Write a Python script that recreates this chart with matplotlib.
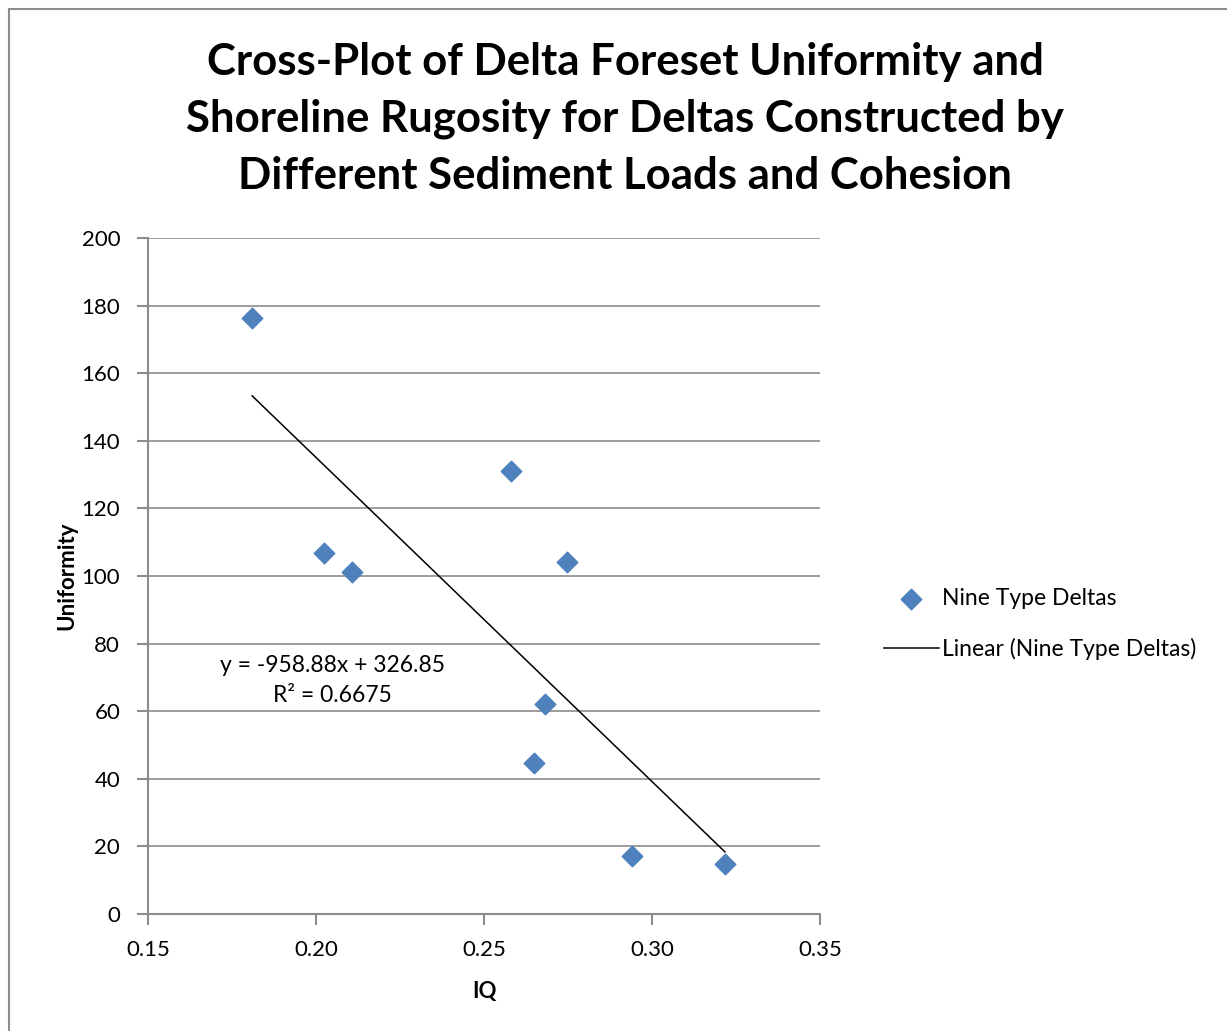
import matplotlib.pyplot as plt
from matplotlib.patches import Rectangle

plt.rcParams['font.family'] = ['Lato', 'DejaVu Sans']

# IQ vs uniformity for the nine deltas
iq = [0.181, 0.2024, 0.2107, 0.2580, 0.2747, 0.2682, 0.2649, 0.2940, 0.3217]
uniformity = [176.3, 106.8, 101.2, 131.1, 104.1, 62.1, 44.7, 17.2, 14.8]
slope = -958.88
intercept = 326.85
r2 = 0.6675
xticks = [0.15, 0.20, 0.25, 0.30, 0.35]
yticks = [0, 20, 40, 60, 80, 100, 120, 140, 160, 180, 200]

W, H = 1227, 1031
fig = plt.figure(figsize=(W / 100, H / 100), dpi=100)
fig.patches.append(Rectangle((9 / W, -0.01), 1.02, 1 - 9 / H + 0.01,
                             transform=fig.transFigure, fill=False,
                             edgecolor='#8c8c8c', linewidth=1.5))

ax = fig.add_axes([148 / W, 1 - 914 / H, (820 - 148) / W, (914 - 238) / H])

ax.scatter(iq, uniformity, marker='D', s=110, color='#4f81bd',
           edgecolors='#4f81bd', zorder=3, label='Nine Type Deltas')
xs = [min(iq), max(iq)]
ax.plot(xs, [slope * x + intercept for x in xs], color='black', linewidth=1.1,
        zorder=2, label='Linear (Nine Type Deltas)')

ax.set_xlim(0.15, 0.35)
ax.set_ylim(0, 200)
ax.set_xticks(xticks)
ax.set_xticklabels([f'{t:.2f}' for t in xticks])
ax.set_yticks(yticks)
ax.grid(axis='y', color='#8c8c8c', linewidth=1.2)
ax.set_axisbelow(True)
for s in ['top', 'right']:
    ax.spines[s].set_visible(False)
for s in ['left', 'bottom']:
    ax.spines[s].set_color('#8c8c8c')
    ax.spines[s].set_linewidth(1.5)
ax.tick_params(axis='both', colors='#8c8c8c', length=8, width=1.5,
               labelsize=16, labelcolor='black', direction='out')
ax.tick_params(axis='x', pad=11)
ax.tick_params(axis='y', pad=12)

ax.set_xlabel('IQ', fontsize=16, fontweight='bold', labelpad=15)
ax.set_ylabel('Uniformity', fontsize=16, fontweight='bold', labelpad=3)

fig.text(625 / W, 1 - 119 / H,
         'Cross-Plot of Delta Foreset Uniformity and\n'
         'Shoreline Rugosity for Deltas Constructed by\n'
         'Different Sediment Loads and Cohesion',
         ha='center', va='center', fontsize=31.5, fontweight='bold',
         linespacing=1.5)

ax.text(0.2048, 69.0, f'y = {slope}x + {intercept}\nR² = {r2}', ha='center',
        va='center', fontsize=16.5, linespacing=1.55)

fig.legend(loc='center left', bbox_to_anchor=(863 / W, 1 - 624 / H),
           frameon=False, fontsize=16.5, handlelength=2.4, handletextpad=0.15,
           labelspacing=1.25)

fig.savefig('out.png', dpi=100)
